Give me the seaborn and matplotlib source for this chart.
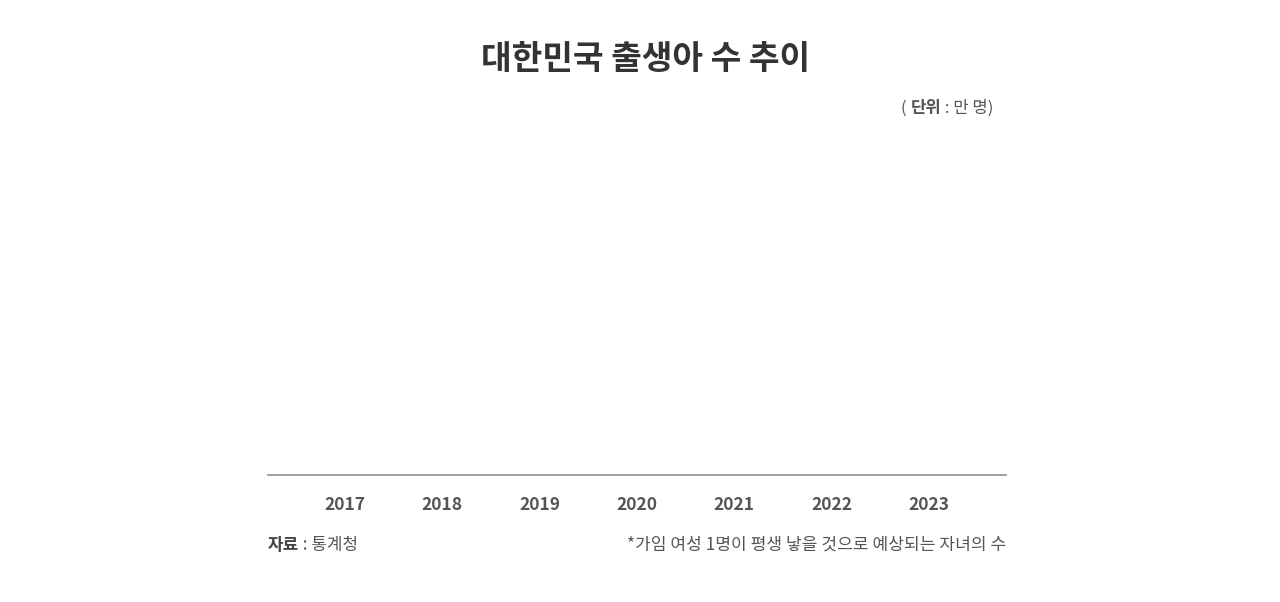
import matplotlib
matplotlib.use("Agg")
import matplotlib.pyplot as plt
import seaborn as sns
import pandas as pd

# datos: en la imagen no se ve ninguna barra (altura 0)
years = ["2017", "2018", "2019", "2020", "2021", "2022", "2023"]
births = [0, 0, 0, 0, 0, 0, 0]

title = "대한민국 출생아 수 추이"
unit_parts = ["( ", "단위", " : 만 명)"]
source_parts = ["자료", " : 통계청"]
footnote = "*가임 여성 1명이 평생 낳을 것으로 예상되는 자녀의 수"

df = pd.DataFrame({"year": years, "births": births})

sns.set_theme(style="white")
plt.rcParams["font.family"] = ["Noto Sans CJK KR", "DejaVu Sans"]

W, H = 1280, 602
fig = plt.figure(figsize=(W / 100, H / 100), dpi=100)
ax = fig.add_axes([268 / W, 1 - 475 / H, (1006 - 268) / W, (475 - 130) / H])

sns.barplot(data=df, x="year", y="births", color="#4a6fa5", ax=ax)

ax.set_xlim(-0.79, 6.79)
ax.set_ylim(0, 40)
ax.set_xlabel("")
ax.set_ylabel("")
ax.set_yticks([])
for s in ["top", "left", "right"]:
    ax.spines[s].set_visible(False)
ax.spines["bottom"].set_color("#a0a0a0")
ax.spines["bottom"].set_linewidth(1.4)
ax.tick_params(axis="x", length=0, pad=15, labelsize=12.5, labelcolor="#555555")
for lab in ax.get_xticklabels():
    lab.set_fontweight("semibold")

# titulo
fig.text(646 / W, 1 - 60 / H, title, ha="center", va="center",
         fontsize=24, fontweight="bold", color="#333333")

# unidad (texto encadenado con negrita)
t = fig.text(901 / W, 1 - 108 / H, unit_parts[0], ha="left", va="center",
             fontsize=12, color="#555555")
t = ax.annotate(unit_parts[1], xy=(1, 0.5), xycoords=t, va="center", ha="left",
                fontsize=12, fontweight="bold", color="#555555")
ax.annotate(unit_parts[2], xy=(1, 0.5), xycoords=t, va="center", ha="left",
            fontsize=12, color="#555555")

# fuente
t = fig.text(268 / W, 1 - 545 / H, source_parts[0], ha="left", va="center",
             fontsize=12.2, fontweight="bold", color="#444444")
ax.annotate(source_parts[1], xy=(1, 0.5), xycoords=t, va="center", ha="left",
            fontsize=12.2, color="#555555")

fig.text(1006 / W, 1 - 545 / H, footnote, ha="right", va="center",
         fontsize=12.3, color="#555555")

fig.savefig("out.png", dpi=100, facecolor="white")
